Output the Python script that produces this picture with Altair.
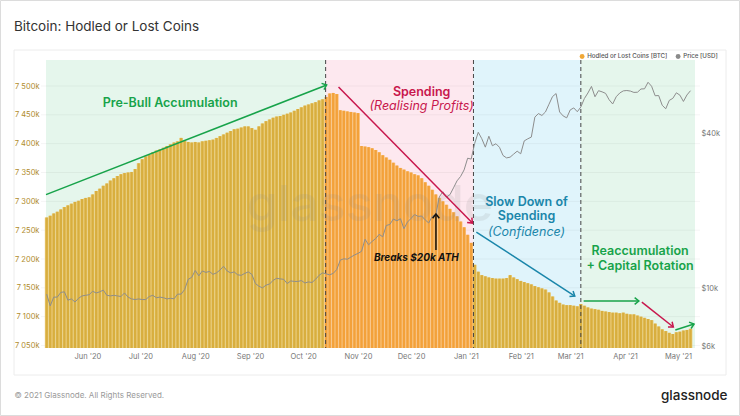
import math
import altair as alt
import pandas as pd

# ---------------- data ----------------
BAR_START = "2020-05-09"
BAR_STEP_DAYS = 2

# Hodled or lost coins, thousands of BTC (every 2 days)
hodl_k = [
    7272, 7275, 7279, 7282, 7286, 7290, 7293, 7296, 7299, 7301, 7304, 7306,
    7307, 7312, 7318, 7322, 7327, 7331, 7336, 7340, 7344, 7347, 7349, 7350, 7351, 7356, 7366,
    7373, 7378, 7381, 7385, 7388, 7390, 7393, 7396, 7399, 7402, 7404, 7410, 7405, 7403, 7402,
    7403, 7402, 7404, 7405, 7406, 7407, 7410, 7413, 7416, 7419, 7422, 7425, 7426, 7428, 7430, 7430,
    7427, 7424, 7430, 7435, 7439, 7442, 7445, 7447, 7448, 7450, 7452, 7454, 7457, 7460, 7463,
    7466, 7468, 7470, 7472, 7475, 7477, 7481, 7487, 7488, 7486, 7458, 7457, 7456, 7455, 7454,
    7453, 7396, 7395, 7394, 7392, 7389, 7385, 7380, 7376, 7372, 7367, 7362, 7358, 7355, 7352,
    7350, 7347, 7345, 7340, 7333, 7327, 7320, 7312, 7306, 7300, 7294, 7287, 7281, 7274, 7265, 7255,
    7242, 7228, 7190, 7178, 7172, 7170, 7168, 7167, 7166, 7166, 7166, 7167, 7172, 7168, 7165,
    7162, 7160, 7158, 7156, 7153, 7151, 7149, 7147, 7142, 7135, 7128, 7124, 7121, 7120,
    7120, 7119, 7118, 7122, 7119, 7116, 7114, 7113, 7112, 7110, 7109, 7108, 7107, 7107, 7106, 7107,
    7105, 7104, 7104, 7102, 7100, 7098, 7096, 7094, 7088, 7083, 7078, 7075, 7072, 7070, 7073,
    7074, 7076, 7077, 7079,
]

# BTC price, USD (same dates)
price_usd = [
    9550, 8600, 9300, 9300, 9700, 9750, 9050, 9150, 8900, 9200, 9400, 9450,
    9500, 9800, 9650, 9750, 9900, 9450, 9400, 9450, 9400, 9350, 9650, 9300, 9150, 9100, 9150,
    9100, 9100, 9350, 9450, 9250, 9300, 9250, 9150, 9200, 9160, 9550, 9550, 9950, 10900, 11100,
    11800, 11250, 11750, 11600, 11700, 11400, 11550, 11850, 12250, 11750, 11550, 11650, 11350, 11300, 11500, 11650,
    11400, 10500, 10250, 10100, 10350, 10450, 10800, 11000, 10950, 10900, 10500, 10750, 10700, 10700, 10780,
    10550, 10650, 10600, 10900, 11300, 11550, 11450, 11350, 11500, 11900, 12950, 13100, 13050, 13300, 13550,
    13750, 14000, 15600, 14850, 15300, 15700, 16300, 15950, 17650, 17800, 18700, 18400, 18750, 17150, 18200,
    18800, 19450, 19150, 19200, 18550, 18050, 19150, 19450, 22800, 23850, 22750, 23250, 24700, 26300, 27350, 29000,
    32200, 31950, 36800, 40600, 38350, 35550, 39200, 36000, 36650, 35500, 33000, 32300, 32500, 33400, 34300,
    33500, 37600, 38300, 38900, 46500, 48000, 47200, 48700, 52200, 55900, 57400, 48700, 47000, 46200,
    49600, 50500, 48800, 50900, 54900, 57700, 61200, 55800, 58900, 58300, 57500, 54300, 52300, 55800, 57700, 58800,
    59000, 58700, 58000, 58100, 59800, 59900, 63500, 61300, 56300, 56400, 51700, 50100, 54000, 55000, 57800,
    56600, 53500, 56700, 58900,
]

phase_names = ["Pre-Bull Accumulation", "Spending", "Slow Down of Spending", "Reaccumulation"]
phase_starts = ["2020-05-08T14:45", "2020-10-13T17:00", "2021-01-05T07:00", "2021-03-07T00:00"]
phase_ends = ["2020-10-13T17:00", "2021-01-05T07:00", "2021-03-07T00:00", "2021-05-10T13:00"]

month_ticks = ["2020-06-01", "2020-07-01", "2020-08-01", "2020-09-01", "2020-10-01", "2020-11-01",
               "2020-12-01", "2021-01-01", "2021-02-01", "2021-03-01", "2021-04-01", "2021-05-01"]
hodl_ticks_k = [7050, 7100, 7150, 7200, 7250, 7300, 7350, 7400, 7450, 7500]
price_ticks = [6000, 10000, 40000]

legend_labels = ["Hodled or Lost Coins [BTC]", "Price [USD]"]

arrow_start_dates = ["2020-05-08T14:45", "2020-10-21T00:00", "2020-12-15T02:00", "2021-01-06T22:00",
                     "2021-03-08T14:00", "2021-04-10T12:00", "2021-04-29T10:00"]
arrow_start_k = [7311.7, 7498.2, 7215.6, 7246.8, 7127.2, 7125.4, 7076.9]
arrow_end_dates = ["2020-10-14T07:00", "2021-01-04T17:00", "2020-12-15T02:00", "2021-03-03T14:00",
                   "2021-04-08T19:00", "2021-04-28T07:00", "2021-05-10T00:00"]
arrow_end_k = [7501.7, 7262.4, 7278.0, 7135.8, 7127.2, 7082.1, 7087.3]
arrow_kind = ["green", "red", "black", "blue", "green", "red", "green"]

note_texts = ["Pre-Bull Accumulation", "Spending", "(Realising Profits)", "Slow Down of", "Spending",
              "(Confidence)", "Reaccumulation", "+ Capital Rotation", "Breaks $20k ATH"]
note_dates = ["2020-07-17T19:00", "2020-12-07T00:00", "2020-12-07T00:00", "2021-02-04T07:00",
              "2021-02-04T07:00", "2021-02-04T07:00", "2021-04-09T12:00", "2021-04-09T12:00",
              "2020-12-04T00:00"]
note_k = [7470.5, 7489.6, 7465.3, 7298.8, 7274.6, 7246.8, 7213.9, 7187.9, 7201.7]
note_kind = ["green", "red", "red", "blue", "blue", "blue", "green", "green", "black"]
note_style = ["bold", "bold", "italic", "bold", "bold", "italic", "bold", "bold", "bolditalic"]

watermark_text = ["glassnode"]
watermark_date = ["2020-11-07T19:00"]
watermark_k = [7292]

# ---------------- styling / layout ----------------
PLOT_W, PLOT_H = 659, 288
PAD = {"left": 41, "top": 60, "right": 40, "bottom": 68}
X_DOMAIN = ["2020-05-08T14:45:00", "2021-05-10T13:00:00"]
Y_DOMAIN = [7045700, 7545100]
P_DOMAIN = [5900, 77500]
FONT = "Inter"

KIND_COLOR = {"green": "#17a34a", "red": "#c8174d", "blue": "#1a86aa", "black": "#111111"}
PHASE_BG = ["#e5f6ec", "#fde8ef", "#e0f4fb", "#e5f6ec"]
BAR_DARK = {False: "#d8ae3e", True: "#f3a13a"}
BAR_LIGHT = {False: "#eacb78", True: "#f8c17a"}
LEGEND_COLORS = ["#f0a836", "#8a8a8a"]

# ---------------- frames ----------------
dates = pd.date_range(BAR_START, periods=len(hodl_k), freq=f"{BAR_STEP_DAYS}D")
pstarts = [pd.Timestamp(s) for s in phase_starts]
phase_idx = [max(i for i, s in enumerate(pstarts) if d >= s) for d in dates]

bars = pd.DataFrame({
    "date": dates,
    "hodl": [v * 1000 for v in hodl_k],
    "dark": [BAR_DARK[p == 1] for p in phase_idx],
    "light": [BAR_LIGHT[p == 1] for p in phase_idx],
})
price = pd.DataFrame({"date": dates, "price": price_usd, "series": legend_labels[1]})

bg = pd.DataFrame({"start": pd.to_datetime(phase_starts), "end": pd.to_datetime(phase_ends),
                   "name": phase_names, "fill": PHASE_BG})
dashed = pd.DataFrame({"date": pd.to_datetime(phase_starts[1:])})
grid = pd.DataFrame({"v": [t * 1000 for t in hodl_ticks_k]})

X0, X1 = pd.Timestamp(X_DOMAIN[0]), pd.Timestamp(X_DOMAIN[1])
px_per_day = PLOT_W / ((X1 - X0) / pd.Timedelta(days=1))
px_per_unit = PLOT_H / (Y_DOMAIN[1] - Y_DOMAIN[0])


def screen_angle(xs, ys, xe, ye):
    dx = (pd.Timestamp(xe) - pd.Timestamp(xs)) / pd.Timedelta(days=1) * px_per_day
    dy = -(ye - ys) * 1000 * px_per_unit
    return math.degrees(math.atan2(dy, dx)) % 360


arrows = pd.DataFrame({
    "xs": pd.to_datetime(arrow_start_dates), "ys": [v * 1000 for v in arrow_start_k],
    "xe": pd.to_datetime(arrow_end_dates), "ye": [v * 1000 for v in arrow_end_k],
    "col": [KIND_COLOR[k] for k in arrow_kind],
    "ang": [screen_angle(a, b, c, d) for a, b, c, d in
            zip(arrow_start_dates, arrow_start_k, arrow_end_dates, arrow_end_k)],
})

notes = pd.DataFrame({"text": note_texts, "date": pd.to_datetime(note_dates),
                      "v": [v * 1000 for v in note_k],
                      "col": [KIND_COLOR[k] for k in note_kind], "style": note_style})

wm = pd.DataFrame({"text": watermark_text, "date": pd.to_datetime(watermark_date),
                   "v": [v * 1000 for v in watermark_k]})

# ---------------- scales / axes ----------------
xscale = alt.Scale(domain=X_DOMAIN)
yscale = alt.Scale(domain=Y_DOMAIN, zero=False, nice=False)
pscale = alt.Scale(type="log", domain=P_DOMAIN, nice=False)

x_axis = alt.Axis(
    values=[alt.DateTime(year=int(m[:4]), month=int(m[5:7]), date=1) for m in month_ticks],
    format="%b '%y", labelColor="#777", labelFontSize=7.5, labelFont=FONT, labelPadding=4,
    ticks=False, domain=False, grid=False, labelFlush=False,
    title="© 2021 Glassnode. All Rights Reserved.", titleX=-27, titleY=47,
    titleAlign="left", titleBaseline="middle", titleFontSize=8, titleFont=FONT,
    titleFontWeight="normal", titleColor="#9a9a9a",
)
y_axis = alt.Axis(
    values=[t * 1000 for t in hodl_ticks_k],
    labelExpr="'7 ' + format((datum.value - 7000000) / 1000, '03d') + 'k'",
    labelColor="#b08c2c", labelFontSize=7.5, labelFont=FONT, labelPadding=2,
    ticks=False, domain=False, grid=False, title=None,
)
p_axis = alt.Axis(
    orient="right", values=price_ticks, labelExpr="'$' + datum.value / 1000 + 'k'",
    labelColor="#777", labelFontSize=7.5, labelFont=FONT, labelPadding=1,
    ticks=False, domain=False, grid=False,
    title="glassnode", titleAngle=0, titleX=27, titleY=335, titleAlign="right",
    titleBaseline="middle", titleFontSize=13.5, titleFont=FONT, titleFontWeight=500,
    titleColor="#222",
)

# ---------------- layers ----------------
one_row = pd.DataFrame({"k": [0]})
outer_frame = alt.Chart(one_row).mark_rect(fill=None, stroke="#dcdcdc").encode(
    x=alt.value(-40.5), x2=alt.value(698.5), y=alt.value(-59.5), y2=alt.value(355.5),
)
inner_frame = alt.Chart(one_row).mark_rect(fill=None, stroke="#ececec").encode(
    x=alt.value(-27), x2=alt.value(685), y=alt.value(-10), y2=alt.value(315),
)

background = alt.Chart(bg).mark_rect().encode(
    x=alt.X("start:T", scale=xscale, axis=x_axis),
    x2="end:T",
    fill=alt.Fill("fill:N", scale=None),
)

gridlines = alt.Chart(grid).mark_rule(color="#000", opacity=0.045, strokeWidth=1).encode(
    y=alt.Y("v:Q", scale=yscale, axis=y_axis),
)

bars_light = alt.Chart(bars).mark_bar(size=3.7, clip=True).encode(
    x=alt.X("date:T", scale=xscale),
    y=alt.Y("hodl:Q", scale=yscale, axis=y_axis),
    y2=alt.datum(Y_DOMAIN[0]),
    fill=alt.Fill("light:N", scale=None),
)
bars_dark = alt.Chart(bars).mark_bar(size=2.3, clip=True).encode(
    x=alt.X("date:T", scale=xscale),
    y=alt.Y("hodl:Q", scale=yscale, axis=y_axis),
    y2=alt.datum(Y_DOMAIN[0]),
    fill=alt.Fill("dark:N", scale=None),
)

dash_rules = alt.Chart(dashed).mark_rule(color="#444", strokeDash=[4, 3], strokeWidth=1).encode(
    x=alt.X("date:T", scale=xscale),
)

watermark = alt.Chart(wm).mark_text(
    font=FONT, fontSize=50, fontWeight=500, color="#8c8c8c", opacity=0.14, baseline="middle"
).encode(x=alt.X("date:T", scale=xscale), y=alt.Y("v:Q", scale=yscale, axis=y_axis),
         text="text:N")

arrow_lines = alt.Chart(arrows).mark_rule(strokeWidth=1.5).encode(
    x=alt.X("xs:T", scale=xscale), x2="xe:T",
    y=alt.Y("ys:Q", scale=yscale, axis=None), y2="ye:Q",
    stroke=alt.Stroke("col:N", scale=None),
)
arrow_heads = alt.Chart(arrows).mark_point(
    shape="M -1 -0.8 L 0 0 L -1 0.8", filled=False, size=70, strokeWidth=1.5, opacity=1
).encode(
    x=alt.X("xe:T", scale=xscale), y=alt.Y("ye:Q", scale=yscale, axis=None),
    stroke=alt.Stroke("col:N", scale=None), angle=alt.Angle("ang:Q", scale=None),
)

STYLE_FONT = {
    "bold": dict(fontWeight=600, fontStyle="normal", fontSize=12.5),
    "italic": dict(fontWeight=400, fontStyle="italic", fontSize=12.5),
    "bolditalic": dict(fontWeight=700, fontStyle="italic", fontSize=10),
}
note_layers = []
for st, kw in STYLE_FONT.items():
    note_layers.append(
        alt.Chart(notes).transform_filter(alt.datum.style == st).mark_text(
            font=FONT, baseline="middle", align="center", **kw
        ).encode(
            x=alt.X("date:T", scale=xscale), y=alt.Y("v:Q", scale=yscale, axis=None),
            text="text:N", color=alt.Color("col:N", scale=None),
        )
    )

left_layer = alt.layer(
    outer_frame, inner_frame, background, gridlines, bars_light, bars_dark, dash_rules, watermark,
)

price_line = alt.Chart(price).mark_line(color="#8d8d8d", strokeWidth=1, clip=True).encode(
    x=alt.X("date:T", scale=xscale),
    y=alt.Y("price:Q", scale=pscale, axis=p_axis),
)
legend_pts = alt.Chart(price).mark_circle(opacity=0).encode(
    x=alt.X("date:T", scale=xscale),
    y=alt.Y("price:Q", scale=pscale, axis=p_axis),
    color=alt.Color("series:N", scale=alt.Scale(domain=legend_labels, range=LEGEND_COLORS),
                    legend=alt.Legend(
                        orient="none", legendX=538, legendY=-7, direction="horizontal",
                        title=None, symbolType="circle", symbolSize=24, symbolOpacity=1,
                        symbolStrokeWidth=0, labelFontSize=6.2, labelFont=FONT,
                        labelFontWeight=500, labelColor="#555", columnPadding=7,
                        padding=0, labelOffset=2)),
)
price_layer = alt.layer(price_line, legend_pts)

top_layer = alt.layer(arrow_lines, arrow_heads, *note_layers)

chart = alt.layer(left_layer, price_layer, top_layer).resolve_scale(
    y="independent"
).properties(
    width=PLOT_W, height=PLOT_H, padding=PAD,
    autosize=alt.AutoSizeParams(type="none"),
    title=alt.TitleParams(
        "Bitcoin: Hodled or Lost Coins", anchor="start", frame="group", dx=-27, offset=0, dy=33,
        font=FONT, fontSize=13.5, fontWeight="normal", color="#333",
    ),
    background="white",
).configure_view(stroke=None)

chart.save("out.html", embed_options={"renderer": "svg", "actions": False})
